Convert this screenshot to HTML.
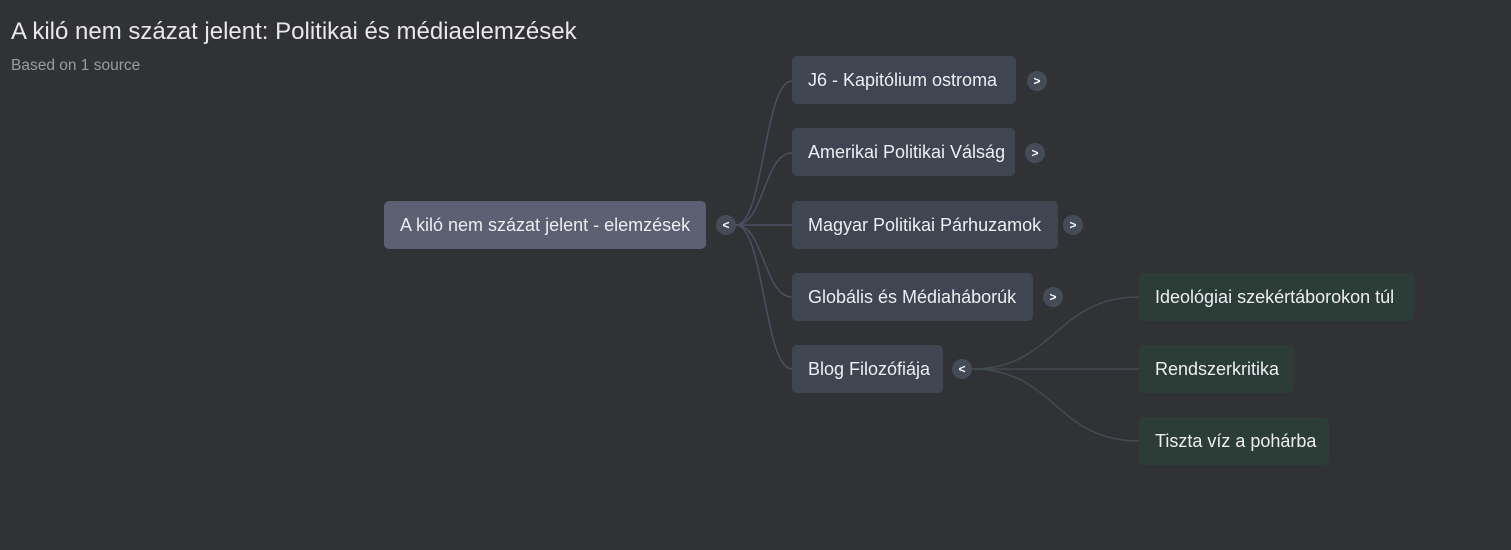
<!DOCTYPE html>
<html><head><meta charset="utf-8"><style>
body{margin:0;width:1511px;height:550px;background:#313236;font-family:"Liberation Sans",sans-serif;position:relative;overflow:hidden}
.t{position:absolute;left:11px;top:18px;font-size:24px;color:#e8e8ea}
.s{position:absolute;left:11px;top:57px;font-size:15.5px;color:#9a9ba0}
.n{position:absolute;height:48px;line-height:48px;padding-left:16px;box-sizing:border-box;border-radius:5px;font-size:18px;color:#eceef2;background:#3f4651;white-space:nowrap}
.r{background:#5d5f73}
.g{background:#2c3c36}
.c{position:absolute;width:20px;height:20px;border-radius:50%;background:#464b58;color:#fff;font-size:12px;font-weight:bold;text-align:center;line-height:20px}
</style></head><body>
<div class="t">A kiló nem százat jelent: Politikai és médiaelemzések</div>
<div class="s">Based on 1 source</div>
<svg width="1511" height="550" style="position:absolute;left:0;top:0" fill="none" stroke="#4d4f62" stroke-width="1.5">
<path d="M736 225 C764 225,764 81,792 81"/>
<path d="M736 225 C764 225,764 153,792 153"/>
<path d="M736 225 L792 225"/>
<path d="M736 225 C764 225,764 297,792 297"/>
<path d="M736 225 C764 225,764 369,792 369"/>
<g stroke="#434a50">
<path d="M972 369 C1055 369,1055 297,1139 297"/>
<path d="M972 369 L1139 369"/>
<path d="M972 369 C1055 369,1055 441,1139 441"/>
</g>
</svg>
<div class="n r" style="left:384px;top:201px;width:322px">A kiló nem százat jelent - elemzések</div>
<div class="c" style="left:716px;top:215px">&lt;</div>
<div class="n" style="left:792px;top:56px;width:224px">J6 - Kapitólium ostroma</div>
<div class="c" style="left:1027px;top:71px">&gt;</div>
<div class="n" style="left:792px;top:128px;width:223px">Amerikai Politikai Válság</div>
<div class="c" style="left:1025px;top:143px">&gt;</div>
<div class="n" style="left:792px;top:201px;width:266px">Magyar Politikai Párhuzamok</div>
<div class="c" style="left:1063px;top:215px">&gt;</div>
<div class="n" style="left:792px;top:273px;width:241px">Globális és Médiaháborúk</div>
<div class="c" style="left:1043px;top:287px">&gt;</div>
<div class="n" style="left:792px;top:345px;width:151px">Blog Filozófiája</div>
<div class="c" style="left:952px;top:359px">&lt;</div>
<div class="n g" style="left:1139px;top:273px;width:275px">Ideológiai szekértáborokon túl</div>
<div class="n g" style="left:1139px;top:345px;width:155px">Rendszerkritika</div>
<div class="n g" style="left:1139px;top:417px;width:190px">Tiszta víz a pohárba</div>
</body></html>
